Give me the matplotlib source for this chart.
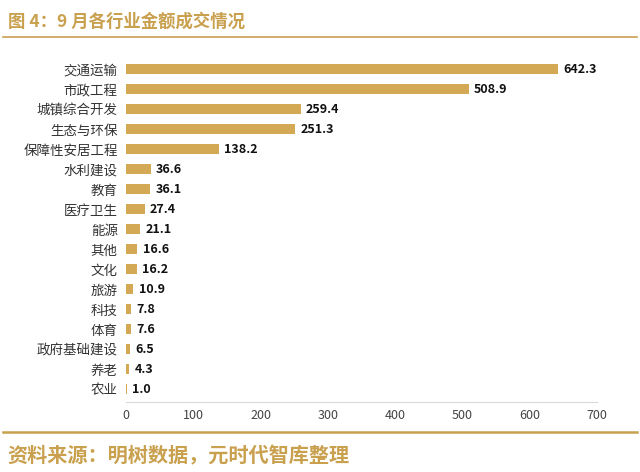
import matplotlib
matplotlib.use("Agg")
import matplotlib.pyplot as plt
from matplotlib.lines import Line2D

plt.rcParams['font.family'] = ['Noto Sans CJK SC', 'DejaVu Sans']

# Data
industries = ["交通运输", "市政工程", "城镇综合开发", "生态与环保", "保障性安居工程",
              "水利建设", "教育", "医疗卫生", "能源", "其他", "文化", "旅游",
              "科技", "体育", "政府基础建设", "养老", "农业"]
amounts = [642.3, 508.9, 259.4, 251.3, 138.2, 36.6, 36.1, 27.4, 21.1, 16.6,
           16.2, 10.9, 7.8, 7.6, 6.5, 4.3, 1.0]
xticks = [0, 100, 200, 300, 400, 500, 600, 700]

gold = "#C9A04E"
bar_color = "#D4A955"

fig = plt.figure(figsize=(6.4, 4.72), dpi=100)
ax = fig.add_axes([0.197, 0.148, 0.736, 0.727])

ypos = list(range(len(industries)))
ax.barh(ypos, amounts, height=0.5, color=bar_color)
for y, v in zip(ypos, amounts):
    ax.text(v + 8, y, f"{v:.1f}", va="center", ha="left",
            fontsize=9, fontweight="bold", color="#111111")

ax.set_yticks(ypos)
ax.set_yticklabels(industries, fontsize=9.7, color="#333333")
ax.invert_yaxis()
ax.set_ylim(len(industries) - 0.35, -0.5)
ax.set_xlim(0, 700)
ax.set_xticks(xticks)
ax.set_xticklabels([str(t) for t in xticks], fontsize=9, color="#444444")
ax.tick_params(axis="both", length=0)
ax.tick_params(axis="x", pad=5)
ax.tick_params(axis="y", pad=6)
for side in ["top", "right", "left"]:
    ax.spines[side].set_visible(False)
ax.spines["bottom"].set_color("#D9D9D9")
ax.spines["bottom"].set_linewidth(0.8)

# Header / footer
fig.text(0.012, 0.955, "图 4：9 月各行业金额成交情况", fontsize=12.5,
         fontweight="bold", color=gold, va="center", ha="left")
fig.add_artist(Line2D([0.005, 0.995], [0.921, 0.921], color=gold, lw=1.2))
fig.add_artist(Line2D([0.005, 0.995], [0.084, 0.084], color=gold, lw=1.8))
fig.text(0.012, 0.035, "资料来源：明树数据，元时代智库整理", fontsize=14.5,
         fontweight="bold", color=gold, va="center", ha="left")

fig.savefig("out.png", dpi=100, facecolor="white")
